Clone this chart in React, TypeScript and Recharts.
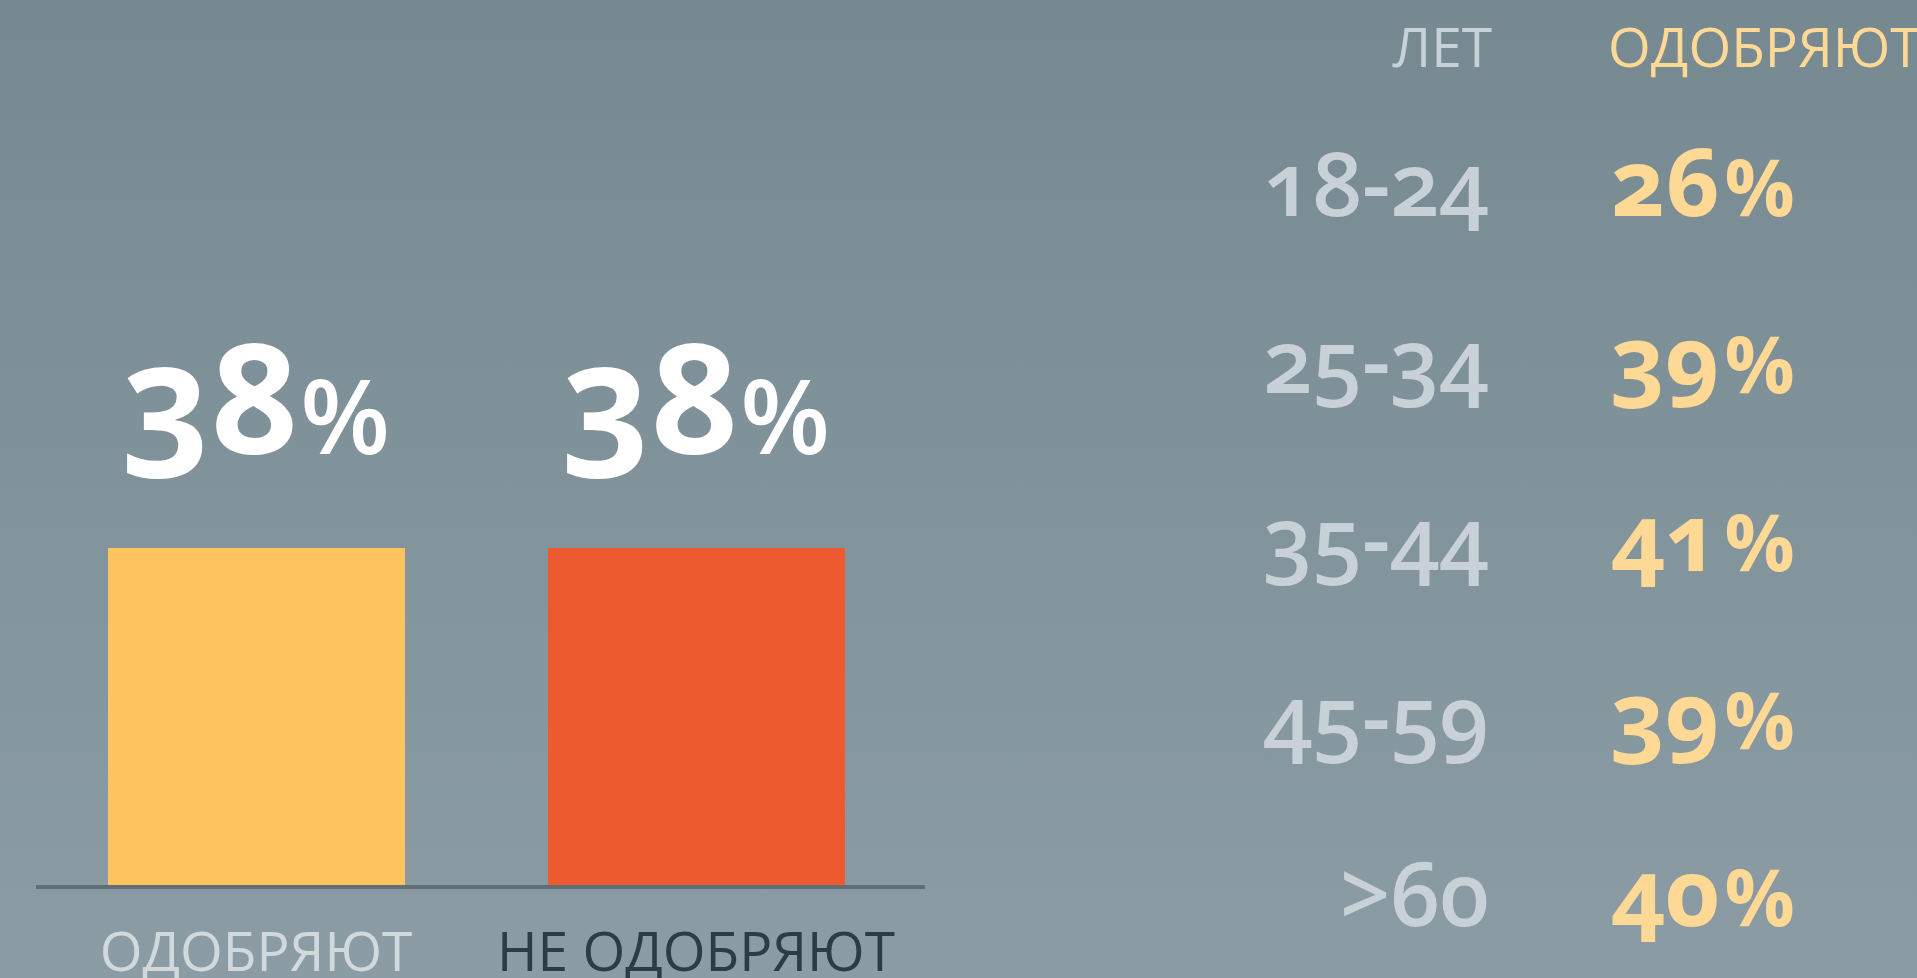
import { BarChart, Bar, XAxis, YAxis, Cell, LabelList } from 'recharts'

// overall approval split
const categories = ['ОДОБРЯЮТ', 'НЕ ОДОБРЯЮТ']
const shares = [38, 38]
const barColors = ['#FCC35E', '#EE5A30']
const categoryColors = ['#D1D9DD', '#2C3B44']

// approval by age group
const ageGroups = ['18-24', '25-34', '35-44', '45-59', '>60']
const approveByAge = [26, 39, 41, 39, 40]

const ageHeader = 'ЛЕТ'
const approveHeader = 'ОДОБРЯЮТ'

const font = "'Open Sans', 'Noto Sans', sans-serif"
const oldstyle = { fontFamily: font, fontVariantNumeric: 'oldstyle-nums' as const }
const capsText = { fontFamily: font, fontSize: 55, fontWeight: 400 }

const overallData = categories.map((name, i) => ({ name, value: shares[i] }))
const ageData = ageGroups.map((age, i) => ({ age, approve: approveByAge[i] }))

const CategoryTick = (props: any) => {
  const { x, y, payload } = props
  const i = categories.indexOf(payload.value)
  return (
    <text x={x} y={Number(y) + 84} textAnchor="middle" fill={categoryColors[i]} style={capsText}>
      {payload.value}
    </text>
  )
}

const ShareLabel = (props: any) => {
  const { x, y, width, value } = props
  return (
    <text
      x={Number(x) + Number(width) / 2}
      y={Number(y) - 94}
      textAnchor="middle"
      fill="#FFFFFF"
      style={oldstyle}
    >
      <tspan fontSize={152} fontWeight={700}>{value}</tspan>
      <tspan fontSize={104} fontWeight={600} dx={2}>%</tspan>
    </text>
  )
}

const AgeTick = (props: any) => {
  const { x, y, payload } = props
  return (
    <text
      x={Number(x) - 111}
      y={Number(y) + 60}
      textAnchor="end"
      fill="#C8D1D7"
      style={{ ...oldstyle, fontSize: 88, fontWeight: 600 }}
    >
      {payload.value}
    </text>
  )
}

const ApproveLabel = (props: any) => {
  const { x, y, height, value } = props
  return (
    <text
      x={Number(x) + 11}
      y={Number(y) + Number(height) / 2 + 60}
      textAnchor="start"
      fill="#FED895"
      style={{ ...oldstyle, fontWeight: 700 }}
    >
      <tspan fontSize={94}>{value}</tspan>
      <tspan fontSize={78} dx={5}>%</tspan>
    </text>
  )
}

export default function App() {
  return (
    <div
      style={{
        position: 'absolute',
        left: 0,
        top: 0,
        width: 1917,
        height: 978,
        overflow: 'hidden',
        background: 'linear-gradient(180deg, #778990 0%, #8B9CA5 100%)'
      }}
    >
      <div style={{ position: 'absolute', left: 0, top: 0 }}>
        <BarChart
          width={950}
          height={978}
          data={overallData}
          margin={{ top: 441, right: 25, bottom: 0, left: 36 }}
        >
          <XAxis
            dataKey="name"
            height={91}
            padding={{ left: 0, right: 9 }}
            axisLine={{ stroke: '#5F6F77', strokeWidth: 4 }}
            tickLine={false}
            tickSize={0}
            tickMargin={0}
            interval={0}
            tick={<CategoryTick />}
          />
          <YAxis hide domain={[0, 50]} />
          <Bar dataKey="value" barSize={297} isAnimationActive={false}>
            {overallData.map((d, i) => (
              <Cell key={d.name} fill={barColors[i]} />
            ))}
            <LabelList dataKey="value" content={<ShareLabel />} />
          </Bar>
        </BarChart>
      </div>

      <div style={{ position: 'absolute', left: 1100, top: 0 }}>
        <BarChart
          layout="vertical"
          width={817}
          height={978}
          data={ageData}
          margin={{ top: 67, right: 0, bottom: 23, left: 0 }}
        >
          <XAxis type="number" hide domain={[0, 100]} />
          <YAxis
            type="category"
            dataKey="age"
            width={500}
            axisLine={false}
            tickLine={false}
            tickSize={0}
            tickMargin={0}
            interval={0}
            tick={<AgeTick />}
          />
          <Bar dataKey="approve" fill="transparent" isAnimationActive={false}>
            <LabelList dataKey="approve" content={<ApproveLabel />} />
          </Bar>
        </BarChart>
      </div>

      <svg
        width={1917}
        height={978}
        style={{ position: 'absolute', left: 0, top: 0, pointerEvents: 'none' }}
      >
        <text x={1492} y={67} textAnchor="end" fill="#C8D1D7" style={capsText}>
          {ageHeader}
        </text>
        <text x={1608} y={67} textAnchor="start" fill="#FED895" style={capsText}>
          {approveHeader}
        </text>
      </svg>
    </div>
  )
}
